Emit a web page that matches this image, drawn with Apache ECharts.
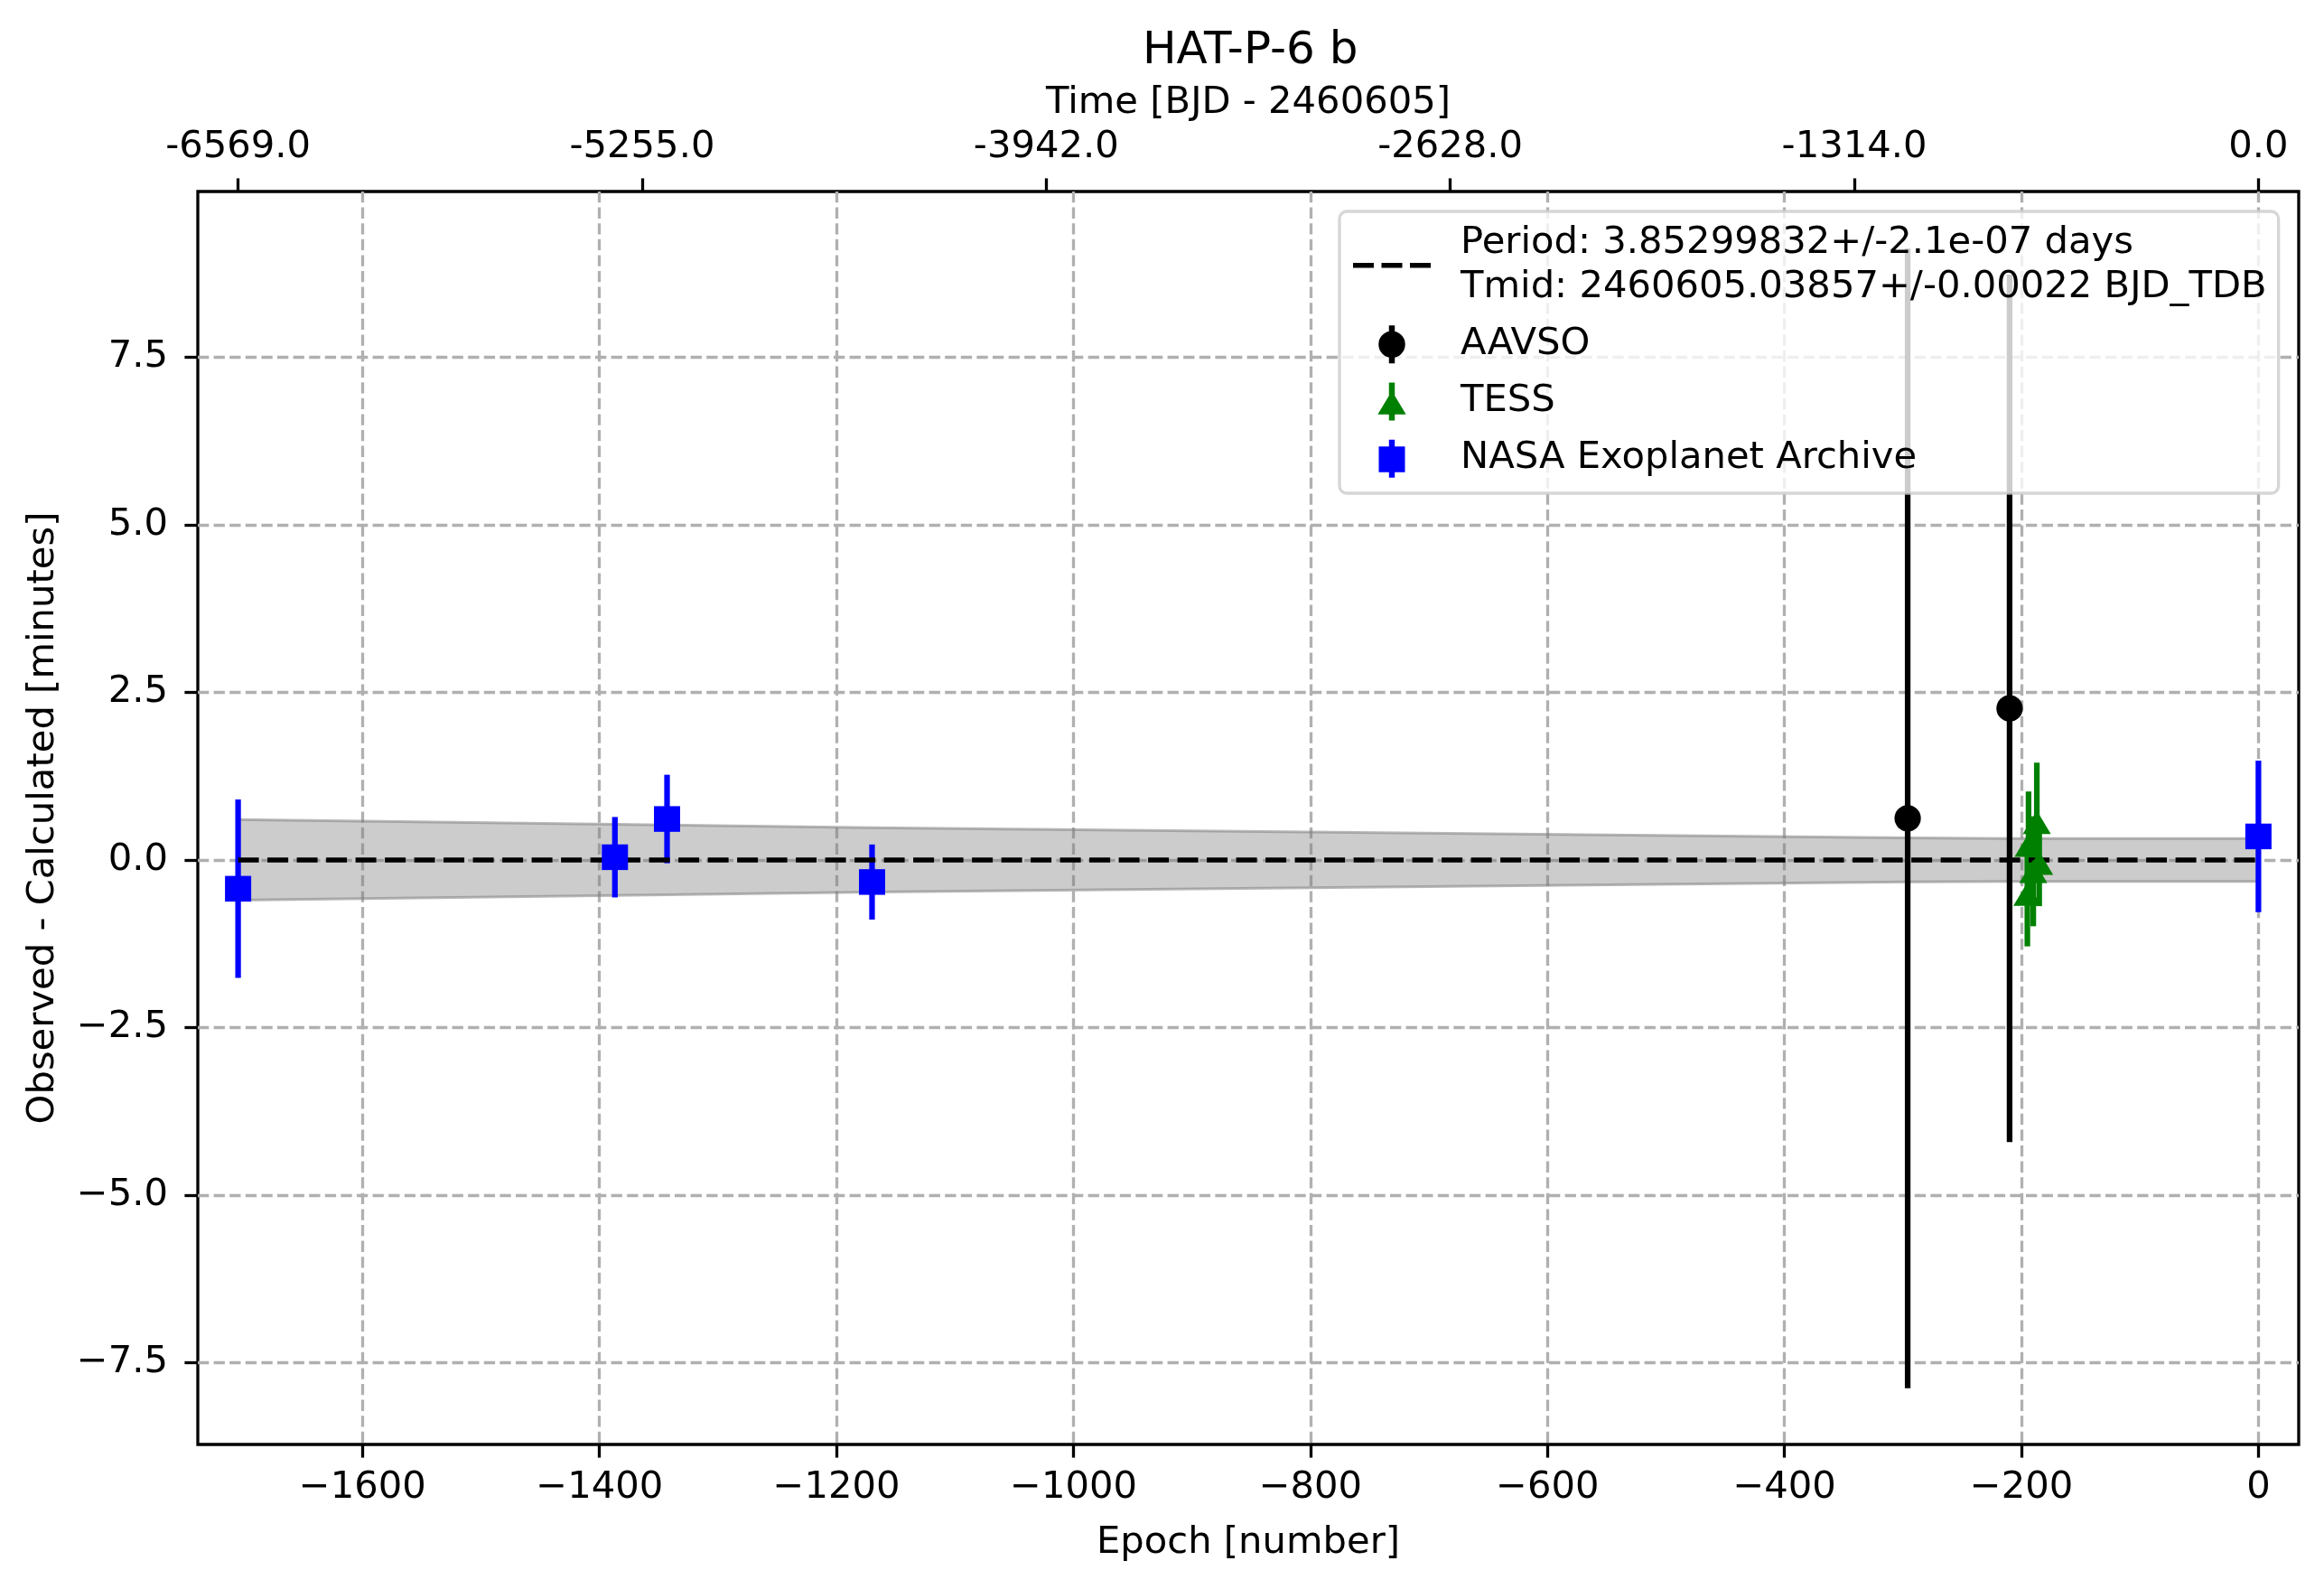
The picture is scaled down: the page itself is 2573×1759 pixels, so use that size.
<!DOCTYPE html>
<html>
<head>
<meta charset="utf-8">
<title>HAT-P-6 b O-C</title>
<script src="https://cdn.jsdelivr.net/npm/echarts@6/dist/echarts.min.js"></script>
<style>
  html, body { margin: 0; padding: 0; background: #fff; }
  #chart { width: 2573px; height: 1759px; }
</style>
</head>
<body>
<div id="chart"></div>
<script>
var titleText = 'HAT-P-6 b';
var fitLabel = 'Period: 3.85299832+/-2.1e-07 days\nTmid: 2460605.03857+/-0.00022 BJD_TDB';

// O-C points: epoch, minutes, 1-sigma error
var aavsoEpoch = [-296, -210];
var aavsoOC = [0.62, 2.26];
var aavsoErr = [8.50, 6.47];

var tessEpoch = [-195, -194, -190, -187, -185];
var tessOC = [-0.51, 0.22, -0.17, 0.56, -0.05];
var tessErr = [0.78, 0.80, 0.82, 0.89, 0.64];

var nasaEpoch = [-1705, -1387, -1343, -1170, 0];
var nasaOC = [-0.43, 0.04, 0.61, -0.33, 0.35];
var nasaErr = [1.33, 0.60, 0.66, 0.56, 1.13];

// linear ephemeris (zero line) and its 1-sigma band, in minutes
var fitEpoch = [-1705, 0];
var fitOC = [0, 0];
var bandEpoch = [-1705, -1387, -1343, -1170, -296, -210, 0];
var bandHalf = [0.60, 0.53, 0.52, 0.48, 0.33, 0.32, 0.32];

// ticks
var epochTicks = [-1600, -1400, -1200, -1000, -800, -600, -400, -200, 0];
var ocTicks = [-7.5, -5, -2.5, 0, 2.5, 5, 7.5];
var timeTickEpochs = [-1705, -1364, -1023, -682, -341, 0];
var timeTickLabels = ['-6569.0', '-5255.0', '-3942.0', '-2628.0', '-1314.0', '0.0'];

var FONT = 'DejaVu Sans';
var FS = 41.7;

function zip(a, b, c) {
    var out = [];
    for (var i = 0; i < a.length; i++) {
        out.push(c ? [a[i], b[i], c[i]] : [a[i], b[i]]);
    }
    return out;
}

function minus(s) {
    return s.replace('-', '\u2212');
}

// vertical error bar for one point
function errorBar(params, api) {
    var x = api.value(0), y = api.value(1), e = api.value(2);
    var hi = api.coord([x, y + e]);
    var lo = api.coord([x, y - e]);
    return {
        type: 'line',
        shape: {x1: hi[0], y1: hi[1], x2: lo[0], y2: lo[1]},
        style: {stroke: api.visual('color'), lineWidth: 6.25}
    };
}

// grey uncertainty band, drawn once as one polygon
function bandShape(params, api) {
    if (params.dataIndex !== 0) return null;
    var upper = [], lower = [];
    for (var i = 0; i < bandEpoch.length; i++) {
        upper.push(api.coord([bandEpoch[i], bandHalf[i]]));
        lower.unshift(api.coord([bandEpoch[i], -bandHalf[i]]));
    }
    var edge = {stroke: 'rgba(128,128,128,0.55)', lineWidth: 3, fill: null};
    return {
        type: 'group',
        children: [
            {type: 'polygon', shape: {points: upper.concat(lower)}, style: {fill: 'rgba(128,128,128,0.4)'}},
            {type: 'polyline', shape: {points: upper}, style: edge},
            {type: 'polyline', shape: {points: lower}, style: edge}
        ]
    };
}

// legend handles: marker with its error bar, and the dashed line
var dashIcon = 'path://M0 0H23V5.5H0Z M31.5 0H54.5V5.5H31.5Z M63 0H86V5.5H63Z';
var circleIcon = 'path://M11.4 0H17.8V7H11.4Z M11.4 34.6H17.8V41.6H11.4Z M0 20.8A14.6 14.6 0 1 1 29.2 20.8A14.6 14.6 0 1 1 0 20.8Z';
var triIcon = 'path://M12.3 0H18.7V15H12.3Z M12.3 34H18.7V41.6H12.3Z M15.5 9.3L31 35L0 35Z';
var squareIcon = 'path://M11.3 0H17.7V8H11.3Z M11.3 35.5H17.7V42H11.3Z M0 7.6H29V36H0Z';

var axisText = {fontFamily: FONT, fontSize: FS, color: '#000'};
var gridDash = {color: '#b0b0b0', width: 3.3, type: [12.3, 5.3]};
var tickStyle = {color: '#000', width: 3.3};

function errSeries(name, color, epochs, oc, err) {
    return {
        name: name,
        type: 'custom',
        renderItem: errorBar,
        itemStyle: {color: color},
        encode: {x: 0, y: 1},
        data: zip(epochs, oc, err),
        clip: true,
        silent: true,
        z: 2
    };
}

function markSeries(name, color, symbol, size, epochs, oc) {
    return {
        name: name,
        type: 'scatter',
        symbol: symbol,
        symbolSize: size,
        itemStyle: {color: color, opacity: 1},
        data: zip(epochs, oc),
        silent: true,
        z: 4
    };
}

var chart = echarts.init(document.getElementById('chart'), null, {renderer: 'canvas'});

var option = {
    animation: false,
    backgroundColor: '#ffffff',
    title: {
        text: titleText,
        left: 1260,
        top: 27,
        textStyle: {fontFamily: FONT, fontSize: 50, fontWeight: 'normal', color: '#000'}
    },
    legend: {
        orient: 'vertical',
        left: 1483,
        top: 234,
        padding: [7.5, 13, 10.5, 15],
        itemWidth: 86,
        itemHeight: 42,
        itemGap: 7.5,
        selectedMode: false,
        backgroundColor: 'rgba(255,255,255,0.8)',
        borderColor: 'rgba(204,204,204,0.8)',
        borderWidth: 3.3,
        borderRadius: 8,
        itemStyle: {borderWidth: 0},
        textStyle: {fontFamily: FONT, fontSize: FS, lineHeight: 48.7, color: '#000', padding: [7, 0, 0, 28]},
        data: [
            {name: fitLabel, icon: dashIcon},
            {name: 'AAVSO', icon: circleIcon},
            {name: 'TESS', icon: triIcon},
            {name: 'NASA Exoplanet Archive', icon: squareIcon}
        ]
    },
    grid: {
        left: 219, right: 28, top: 212, bottom: 160,
        show: true, borderColor: '#000', borderWidth: 3.3, backgroundColor: 'transparent'
    },
    xAxis: [{
        type: 'value',
        position: 'bottom',
        min: -1739,
        max: 34,
        name: 'Epoch [number]',
        nameLocation: 'middle',
        nameGap: 88,
        nameTextStyle: axisText,
        axisLine: {show: false, onZero: false},
        axisTick: {show: true, length: 14.6, lineStyle: tickStyle, customValues: epochTicks},
        axisLabel: {
            customValues: epochTicks, margin: 27,
            fontFamily: FONT, fontSize: FS, color: '#000',
            formatter: function (v) { return minus(String(v)); }
        },
        splitLine: {show: true, lineStyle: gridDash}
    }, {
        type: 'value',
        position: 'top',
        min: -1739,
        max: 34,
        name: 'Time [BJD - 2460605]',
        nameLocation: 'middle',
        nameGap: 77,
        nameTextStyle: axisText,
        axisLine: {show: false, onZero: false},
        axisTick: {show: true, length: 14.6, lineStyle: tickStyle, customValues: timeTickEpochs},
        axisLabel: {
            customValues: timeTickEpochs, margin: 28,
            fontFamily: FONT, fontSize: FS, color: '#000',
            formatter: function (v) {
                var i = timeTickEpochs.indexOf(v);
                return i < 0 ? '' : timeTickLabels[i];
            }
        },
        splitLine: {show: false}
    }],
    yAxis: {
        type: 'value',
        min: -8.72,
        max: 9.97,
        name: 'Observed - Calculated [minutes]',
        nameLocation: 'middle',
        nameGap: 150,
        nameRotate: 90,
        nameTextStyle: axisText,
        axisLine: {show: false, onZero: false},
        axisTick: {show: true, length: 14.6, lineStyle: tickStyle, customValues: ocTicks},
        axisLabel: {
            customValues: ocTicks, margin: 33,
            fontFamily: FONT, fontSize: FS, color: '#000',
            formatter: function (v) { return minus(v.toFixed(1)); }
        },
        splitLine: {show: true, lineStyle: gridDash}
    },
    series: [
        {
            name: 'band',
            type: 'custom',
            renderItem: bandShape,
            encode: {x: 0, y: 1},
            data: zip(bandEpoch, bandHalf),
            silent: true,
            z: 1
        },
        errSeries('AAVSO', '#000000', aavsoEpoch, aavsoOC, aavsoErr),
        errSeries('TESS', '#008000', tessEpoch, tessOC, tessErr),
        errSeries('NASA Exoplanet Archive', '#0000ff', nasaEpoch, nasaOC, nasaErr),
        {
            name: fitLabel,
            type: 'line',
            data: zip(fitEpoch, fitOC),
            symbol: 'none',
            itemStyle: {color: '#000'},
            lineStyle: {color: '#000', width: 5.5, type: [23, 9.5]},
            silent: true,
            z: 3
        },
        markSeries('AAVSO', '#000000', 'circle', 29.2, aavsoEpoch, aavsoOC),
        markSeries('TESS', '#008000', 'triangle', [31, 26], tessEpoch, tessOC),
        markSeries('NASA Exoplanet Archive', '#0000ff', 'rect', [29, 28.4], nasaEpoch, nasaOC)
    ]
};

chart.setOption(option);
</script>
</body>
</html>
